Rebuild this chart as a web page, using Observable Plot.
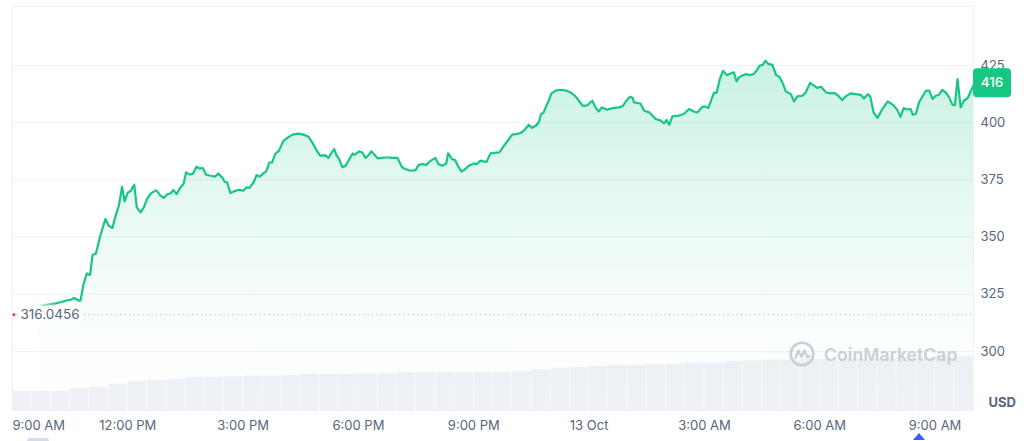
<!DOCTYPE html>
<html><head><meta charset="utf-8">
<script src="https://cdn.jsdelivr.net/npm/d3@7"></script>
<script src="https://cdn.jsdelivr.net/npm/@observablehq/plot@0.6"></script>
<style>
html,body{margin:0;padding:0;background:#fff;}
#wrap{position:relative;width:1024px;height:441px;font-family:Inter,"Noto Sans",sans-serif;overflow:hidden;}
#wrap svg{position:absolute;left:0;top:0;}
#wm{position:absolute;left:789px;top:341px;display:flex;align-items:center;gap:9px;color:#c9ced8;font-size:17.5px;font-weight:600;letter-spacing:0.1px;}
#tri{position:absolute;left:913px;top:433px;width:0;height:0;border-left:6px solid transparent;border-right:6px solid transparent;border-bottom:7px solid #3861fb;}
#pill{position:absolute;left:27px;top:438px;width:22px;height:6px;border-radius:3px;background:#d5dbe7;}
</style></head><body><div id="wrap"></div>
<script>
// ---- data (minutes after 12 Oct 09:00) ----
const priceMinutes = [41,67,75,83,91,96,104,106,111,116,
121,125,130,137,145,150,156,161,166,171,
175,180,184,190,194,200,205,210,216,223,
225,231,236,242,247,251,256,262,267,271,
277,282,287,292,297,302,309,316,321,328,
331,335,340,346,353,360,365,370,377,381,
386,391,396,401,405,410,416,423,429,437,
446,454,462,468,475,480,489,493,502,506,
510,515,520,525,531,534,541,546,551,556,
560,565,570,580,588,593,601,608,613,621,
629,634,641,646,651,660,665,671,677,680,
686,691,695,701,707,712,720,725,730,735,
740,746,752,760,767,773,780,788,793,798,
806,811,818,822,825,829,834,837,841,848,
855,865,872,879,884,890,897,905,910,915,
920,928,937,947,953,958,964,968,970,980,
986,994,1004,1012,1017,1021,1025,1030,1040,1048,
1056,1064,1069,1077,1082,1086,1095,1099,1104,1109,
1115,1121,1126,1130,1135,1145,1150,1157,1162,1166,
1171,1175,1180,1186,1192,1197,1202,1207,1215,1220,
1225,1233,1238,1245,1251,1256,1262,1270,1277,1283,
1290,1295,1300,1308,1316,1324,1329,1335,1339,1344,
1350,1357,1366,1375,1381,1386,1391,1396,1402,1405,
1410,1415,1421,1426,1431,1436,1441,1446,1451,1457,
1462,1467,1471,1475,1480,1485,1491,1500];
const prices = [320.0,321.0,321.5,322.2,322.6,323.4,322.2,322.2,329.5,334.1,
333.4,342.3,342.6,350.6,357.9,355.0,354.0,359.4,363.7,372.0,
365.6,369.5,370.0,372.9,363.0,360.8,363.0,366.7,369.1,370.3,
370.3,368.1,367.1,368.8,369.1,370.6,368.8,371.7,373.2,378.3,
377.3,377.8,380.8,380.0,380.2,377.3,376.8,376.4,377.8,375.8,
374.2,373.9,369.3,370.0,370.7,370.3,371.7,371.5,374.3,377.1,
376.4,377.8,378.7,382.6,382.6,386.3,387.8,392.1,393.4,394.8,
395.2,394.8,393.9,391.3,387.8,385.6,385.7,384.6,388.5,385.6,
384.1,380.5,381.2,383.7,386.6,385.9,387.5,387.0,384.6,385.9,
387.5,386.0,384.4,384.8,384.8,384.6,384.6,380.5,379.8,379.0,
379.3,381.6,381.9,381.5,383.0,384.6,381.9,381.2,382.2,386.6,
384.1,383.7,381.2,378.6,379.8,381.2,382.2,381.9,383.4,383.1,
382.9,386.6,386.8,387.0,389.9,392.1,394.8,395.1,395.5,396.5,
399.1,397.7,399.0,400.6,403.8,404.4,407.9,409.6,412.7,414.0,
414.4,414.0,413.1,411.4,409.6,407.4,407.6,409.6,406.7,404.9,
406.7,405.7,406.4,406.7,407.4,409.6,411.4,410.9,408.9,408.4,
405.2,404.5,401.6,400.9,399.7,401.2,399.1,402.8,403.1,403.8,
406.0,404.8,404.5,407.0,407.0,406.4,413.2,413.0,419.1,422.7,
420.8,421.5,422.0,418.1,420.1,421.3,420.8,421.3,423.0,424.9,
425.3,427.1,425.7,425.3,420.8,420.1,417.4,413.7,412.5,409.3,
411.5,411.8,413.2,417.4,416.2,415.2,415.7,413.2,412.8,413.0,
411.5,409.9,411.4,412.8,412.5,412.2,410.6,412.5,411.4,404.5,
402.1,405.6,409.3,407.7,405.6,402.6,406.4,405.8,406.0,403.5,
403.8,408.9,411.8,414.0,414.0,410.4,411.8,412.2,414.3,413.2,
411.1,407.9,407.7,419.1,406.7,409.6,410.8,416.4];

// volume bars: 30-minute buckets starting at 09:00, relative units
const volumeStartMinutes = d3.range(0, 1500, 30);
const volumes = [24,24,24,27,29,33,36,38,39,41,
41,42,43,43,44,45,45,45,46,46,
47,47,47,47,48,48,49,51,53,54,
55,56,56,57,58,59,59,61,62,63,
63,64,64,65,65,65,66,66,67,67];
const volumeBucket = 30;

const yTicks = [300, 325, 350, 375, 400, 425];
const xTickMinutes = [0, 180, 360, 540, 720, 900, 1080, 1260, 1440];
const xTickLabels = ["9:00 AM","12:00 PM","3:00 PM","6:00 PM","9:00 PM","13 Oct","3:00 AM","6:00 AM","9:00 AM"];
const refPrice = 316.0456;
const refLabel = "316.0456";
const currentLabel = "416";
const currencyLabel = "USD";
const domainMinutes = [0, 1500];
const yDomain = [274.2, 450.8];

// ---- build ----
const t0 = Date.UTC(2023, 9, 12, 9, 0);
const toDate = m => new Date(t0 + m * 60000);
const priceData = priceMinutes.map((m, i) => ({time: toDate(m), price: prices[i]}));
const volData = volumeStartMinutes.map((m, i) => ({start: toDate(m), end: toDate(m + volumeBucket), vol: volumes[i]}));
const xTicks = xTickMinutes.map((m, i) => ({time: toDate(m), label: xTickLabels[i]}));
const xDomain = domainMinutes.map(toDate);

const W = 1024, H = 441, mL = 12, mR = 51, mT = 6, mB = 31;
const green = "#16c784", textCol = "#58667e", gridCol = "#eff2f5";
const font = "Inter, 'Noto Sans', sans-serif";

const volPlot = Plot.plot({
  width: W, height: H, marginLeft: mL, marginRight: mR, marginTop: 330, marginBottom: mB,
  x: {type: "utc", domain: xDomain, axis: null},
  y: {domain: [0, 100], axis: null},
  style: {background: "transparent"},
  marks: [
    Plot.rectY(volData, {x1: "start", x2: "end", y: "vol", fill: "#eff1f6", insetLeft: 0.3, insetRight: 0.3})
  ]
});

const main = Plot.plot({
  width: W, height: H, marginLeft: mL, marginRight: mR, marginTop: mT, marginBottom: mB,
  x: {type: "utc", domain: xDomain, axis: null},
  y: {domain: yDomain, axis: null},
  style: {background: "transparent", fontFamily: font, overflow: "visible"},
  marks: [
    Plot.gridY(yTicks, {stroke: gridCol, strokeOpacity: 1, strokeWidth: 1}),
    Plot.frame({stroke: gridCol, strokeOpacity: 1}),
    Plot.areaY(priceData, {x: "time", y1: yDomain[0], y2: "price", fill: "url(#areaGrad)", curve: "linear"}),
    Plot.ruleY([refPrice], {stroke: "#a6b0c3", strokeDasharray: "1.2,3.3", strokeWidth: 1.2}),
    Plot.lineY(priceData, {x: "time", y: "price", stroke: "url(#lineGrad)", strokeWidth: 2.2, strokeLinejoin: "round"}),
    Plot.text([refPrice], {y: d => d, frameAnchor: "left", dx: 8, text: () => refLabel, textAnchor: "start",
      fill: textCol, fontSize: 13.5, fontFamily: font, stroke: "white", strokeWidth: 7, paintOrder: "stroke"}),
    Plot.dot([refPrice], {y: d => d, frameAnchor: "left", dx: 1.5, r: 1.4, fill: "#ea3943"}),
    Plot.text(yTicks, {y: d => d, frameAnchor: "right", dx: 7, textAnchor: "start", text: d => String(d),
      fill: textCol, fontSize: 13, fontFamily: font}),
    Plot.text(xTicks.slice(1), {x: "time", text: "label", frameAnchor: "bottom", dy: 19,
      fill: textCol, fontSize: 13, fontFamily: font}),
    Plot.text(xTicks.slice(0, 1), {x: "time", text: "label", frameAnchor: "bottom", dy: 19, textAnchor: "start",
      fill: textCol, fontSize: 13, fontFamily: font}),
    Plot.text([currencyLabel], {frameAnchor: "bottom-right", dx: 15, dy: -3.5, textAnchor: "start", text: d => d,
      fill: textCol, fontSize: 13, fontWeight: 700, fontFamily: font})
  ]
});

// gradients
const defs = d3.select(main).insert("defs", ":first-child");
const ag = defs.append("linearGradient").attr("id", "areaGrad").attr("gradientUnits", "userSpaceOnUse")
  .attr("x1", 0).attr("x2", 0).attr("y1", mT).attr("y2", H - mB);
[[0, 0.28], [0.45, 0.12], [0.75, 0.03], [1, 0]].forEach(([o, a]) =>
  ag.append("stop").attr("offset", o).attr("stop-color", green).attr("stop-opacity", a));
const xs = main.scale("x"), ys = main.scale("y");
const lx0 = xs.apply(priceData[0].time);
const lg = defs.append("linearGradient").attr("id", "lineGrad").attr("gradientUnits", "userSpaceOnUse")
  .attr("x1", lx0).attr("x2", lx0 + 18).attr("y1", 0).attr("y2", 0);
[[0, 0.2], [1, 1]].forEach(([o, a]) =>
  lg.append("stop").attr("offset", o).attr("stop-color", green).attr("stop-opacity", a));

// current price badge
const last = priceData[priceData.length - 1];
const by = ys.apply(last.price) - 2;
const bx = W - mR;
const badge = d3.select(main).append("g");
badge.append("rect").attr("x", bx).attr("y", by - 14.5).attr("width", 38).attr("height", 29).attr("rx", 4).attr("fill", green);
badge.append("text").attr("x", bx + 19).attr("y", by).attr("dy", "0.35em").attr("text-anchor", "middle")
  .attr("fill", "white").attr("font-size", 13.5).attr("font-weight", 500).attr("font-family", font).text(currentLabel);

const wrap = document.getElementById("wrap");
wrap.appendChild(volPlot);
wrap.appendChild(main);
const wm = document.createElement("div");
wm.id = "wm";
wm.innerHTML = '<svg width="26" height="26" viewBox="0 0 26 26" style="position:static"><circle cx="13" cy="13" r="11.3" fill="none" stroke="#c9ced8" stroke-width="2.6"/><path d="M6.5 17 L9.5 9.5 L12.5 16 L15.5 9.5 L18 15.5 Q19 17.5 20.5 15" fill="none" stroke="#c9ced8" stroke-width="2.4" stroke-linejoin="round" stroke-linecap="round"/></svg><span>CoinMarketCap</span>';
wrap.appendChild(wm);
const tri = document.createElement("div"); tri.id = "tri"; wrap.appendChild(tri);
const pill = document.createElement("div"); pill.id = "pill"; wrap.appendChild(pill);
</script></body></html>
